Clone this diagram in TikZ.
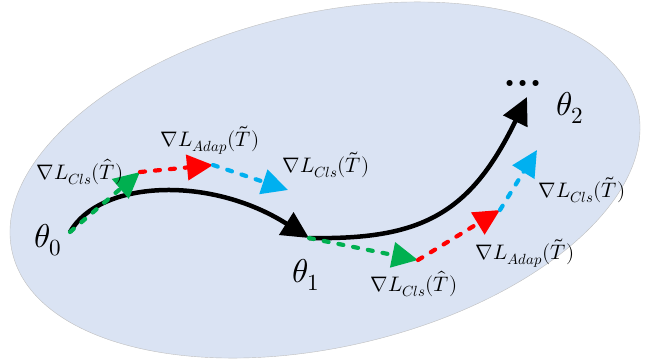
\documentclass[tikz,border=0pt]{standalone}
\usepackage{unicode-math}
\usetikzlibrary{arrows.meta}
\definecolor{paramspace}{HTML}{DAE3F3}
\definecolor{clsgreen}{HTML}{00B050}
\definecolor{adapred}{HTML}{FF0000}
\definecolor{clsblue}{HTML}{00B0F0}
\begin{document}
\begin{tikzpicture}[x=1pt,y=-1pt,
  traj/.style={line width=4.5pt,-{Triangle[length=27pt,width=26pt]}},
  grad/.style={line width=4.2pt,line cap=round,dash pattern=on 5pt off 10pt,-{Triangle[length=26pt,width=25pt]}},
  theta/.style={font=\fontsize{33}{33}\selectfont},
  gradlabel/.style={font=\fontsize{21}{21}\selectfont}]
\useasboundingbox (0,0) rectangle (648,362);
\draw[fill=paramspace,draw=gray!50,rotate around={13:(325,180)}] (325,180) ellipse (321 and 167);
% points along the path
\coordinate (th0) at (70,232);
\coordinate (th1) at (309,238);
\coordinate (th2) at (527,97);
\coordinate (g1) at (140,172);
\coordinate (a1) at (213,165);
\coordinate (c1) at (288,190);
\coordinate (g2) at (418,260);
\coordinate (a2) at (500,210);
\coordinate (c2) at (537,150);
\draw[traj] (th0) .. controls (100,180) and (210,175) .. (th1);
\draw[traj] (th1) .. controls (420,240) and (470,215) .. (th2);
\draw[grad,clsgreen] (th0) -- (g1);
\draw[grad,adapred] (g1) -- (a1);
\draw[grad,clsblue] (a1) -- (c1);
\draw[grad,clsgreen] (th1) -- (g2);
\draw[grad,adapred] (g2) -- (a2);
\draw[grad,clsblue] (a2) -- (c2);
\node[theta] (t0) at (48,240) {$\theta_0$};
\node[theta] (t1) at (306,275) {$\theta_1$};
\node[theta] (t2) at (570,108) {$\theta_2$};
\node[font=\fontsize{42}{42}\bfseries\selectfont] (dots) at (523,83) {...};
\node[gradlabel] (lg1) at (80,172) {$\nabla L_{Cls}(\hat{T})$};
\node[gradlabel] (la1) at (210,140) {$\nabla L_{Adap}(\tilde{T})$};
\node[gradlabel] (lc1) at (326,165) {$\nabla L_{Cls}(\tilde{T})$};
\node[gradlabel] (lg2) at (414,284) {$\nabla L_{Cls}(\hat{T})$};
\node[gradlabel] (la2) at (525,253) {$\nabla L_{Adap}(\tilde{T})$};
\node[gradlabel] (lc2) at (582,190) {$\nabla L_{Cls}(\tilde{T})$};
\end{tikzpicture}
\end{document}
